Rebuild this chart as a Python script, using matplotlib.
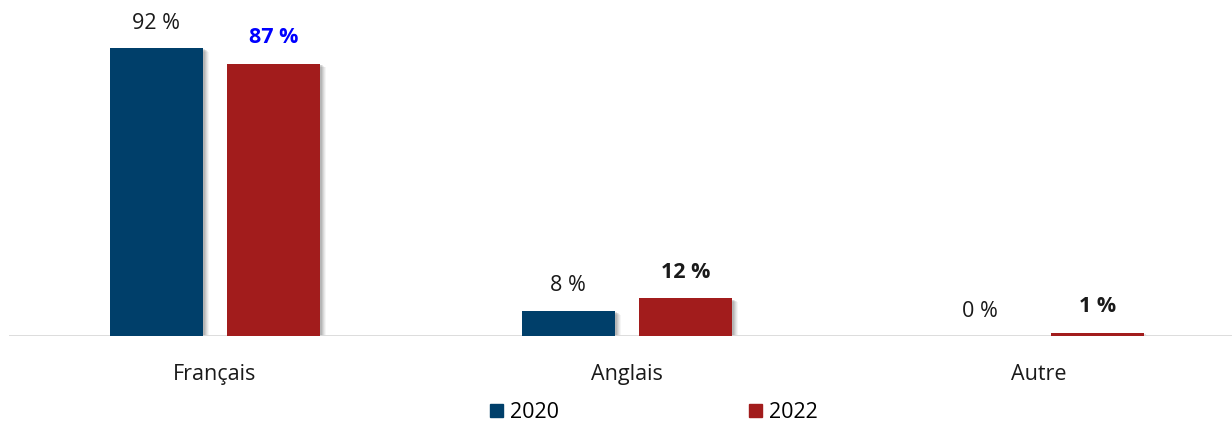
import matplotlib.pyplot as plt
import matplotlib.transforms as mtransforms
from matplotlib.patches import Patch
import numpy as np

plt.rcParams['font.family'] = ['Open Sans', 'DejaVu Sans']

# données
categories = ['Français', 'Anglais', 'Autre']
val_2020 = [92, 8, 0]
val_2022 = [87, 12, 1]
series = ['2020', '2022']

c2020 = '#003F6A'
c2022 = '#A21C1C'

fig = plt.figure(figsize=(12.32, 4.23), dpi=100)
# axe : x de 9 px à 1245 px, base à 336 px du haut
ax = fig.add_axes([9/1232, 87/423, 1236/1232, 336/423])
ax.set_xlim(-0.5, 2.5)
ax.set_ylim(0, 336/3.13)

x = np.arange(len(categories))
w = 0.226
off = 0.1425

# ombre portée (quelques couches décalées)
for dx, a in [(6, 0.05), (5, 0.07), (4, 0.09), (3, 0.11), (2, 0.13)]:
    tr = mtransforms.offset_copy(ax.transData, fig=fig, x=dx, y=-dx*0.6, units='dots')
    for xs, vals in [(x - off, val_2020), (x + off, val_2022)]:
        for xi, v in zip(xs, vals):
            if v > 0:
                ax.bar(xi, v, width=w, color='#444444', alpha=a, transform=tr, zorder=1, linewidth=0)

ax.bar(x - off, val_2020, width=w, color=c2020, zorder=3, linewidth=0)
ax.bar(x + off, val_2022, width=w, color=c2022, zorder=3, linewidth=0)

ax.axhline(0, color='#D9D9D9', lw=2, zorder=2)

# étiquettes
for xi, v in zip(x - off, val_2020):
    ax.annotate(f'{v} %', (xi, v), xytext=(0, 18), textcoords='offset points',
                ha='center', va='center', fontsize=15.5, color='#1A1A1A')
for i, (xi, v) in enumerate(zip(x + off, val_2022)):
    col = 'blue' if i == 0 else '#1A1A1A'
    ax.annotate(f'{v} %', (xi, v), xytext=(0, 19), textcoords='offset points',
                ha='center', va='center', fontsize=15.5, fontweight='bold', color=col)

for xi, c in zip(x, categories):
    ax.annotate(c, (xi, 0), xytext=(0, -27.5), textcoords='offset points',
                ha='center', va='center', fontsize=15.5, color='#1A1A1A')

ax.set_axis_off()

handles = [Patch(color=c2020, label=series[0]), Patch(color=c2022, label=series[1])]
fig.legend(handles=handles, loc='center', bbox_to_anchor=(654/1232, 1 - 412.5/423),
           ncol=2, frameon=False, fontsize=15.5, handlelength=0.6, handleheight=0.6,
           handletextpad=0.35, columnspacing=8.8, borderpad=0.2)

fig.savefig('out.png', dpi=100)
